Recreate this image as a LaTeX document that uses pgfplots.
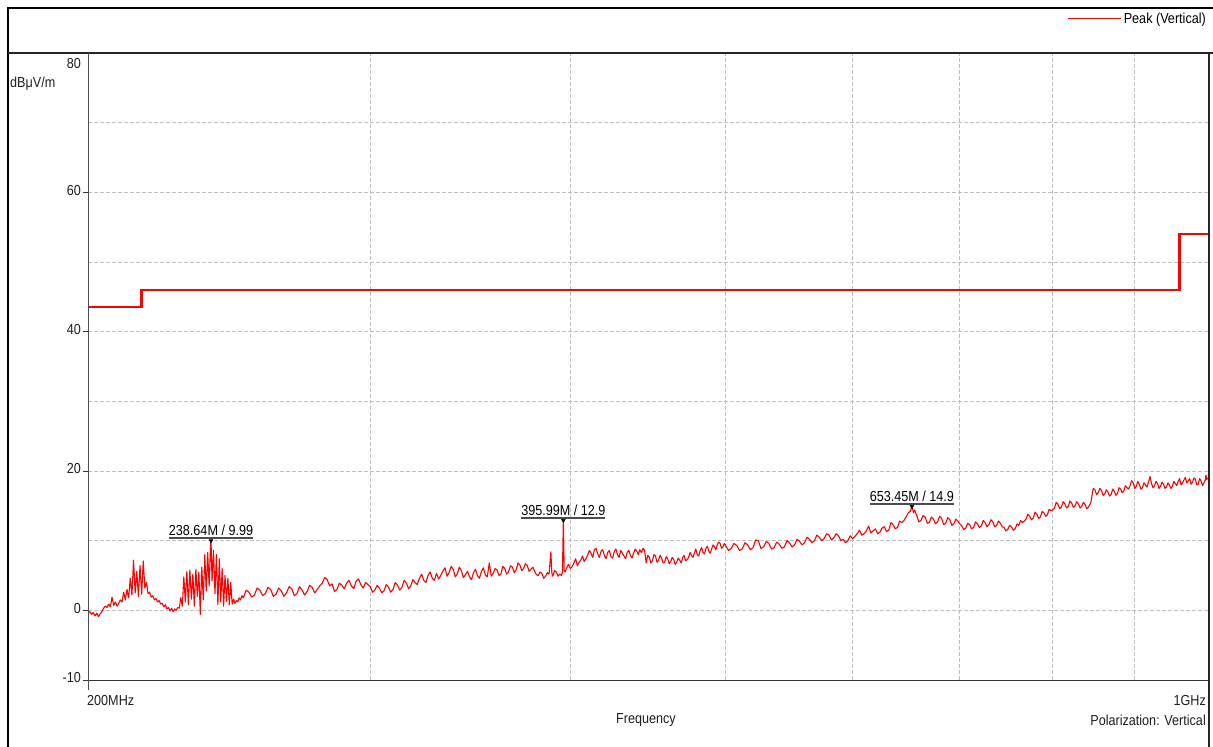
\documentclass[border=0pt]{standalone}
\usepackage{fontspec}
\setmainfont{Liberation Sans}[FakeStretch=0.87]
\usepackage{pgfplots}
\pgfplotsset{compat=1.18}

\definecolor{gridc}{RGB}{190,190,190}
\definecolor{txt}{RGB}{30,30,30}
\definecolor{tr}{RGB}{255,0,0}
\newcommand\lbl{\fontsize{14.5}{16}\selectfont}

\begin{document}
\begin{tikzpicture}[x=1pt,y=1pt]
\useasboundingbox (0,0) rectangle (1213,747);
\begin{axis}[
    at={(88pt,67pt)}, anchor=south west,
    scale only axis, width=1120pt, height=627pt,
    xmode=log, xmin=200, xmax=1000,
    ymin=-10, ymax=80,
    font=\lbl\color{txt},
    /pgf/number format/assume math mode=true,
    axis line style={black!80, line width=0.9pt},
    xtick={300,400,500,600,700,800,900}, xticklabels={},
    major x tick style={draw=none},
    ytick={-10,0,20,40,60,80},
    yticklabels={-10,0,20,40,60,{}},
    minor ytick={10,30,50,70},
    minor y tick style={draw=none},
    tick align=outside, ytick pos=left,
    major tick length=5pt,
    major y tick style={black!80, line width=0.8pt},
    yticklabel style={inner sep=0pt, xshift=-2pt, yshift=2pt},
    grid=both,
    major grid style={gridc, line width=0.7pt, dash pattern=on 4pt off 2pt},
    minor grid style={gridc, line width=0.7pt, dash pattern=on 4pt off 2pt},
    legend style={at={(1,1)}, anchor=south east, draw=none, fill=none,
        inner sep=0pt, yshift=26pt, font=\lbl,
        legend cell align=left},
    legend image code/.code={\draw[tr, line width=1pt] (0pt,0pt) -- (53pt,0pt);},
    clip=false,
]
% limit line
\addplot[tr, line width=2.4pt, forget plot, line join=miter] coordinates {
    (200,43.5) (216,43.5) (216,46) (960,46) (960,54) (1000,54)
};
% peak trace
\addplot[tr, line width=1.1pt, line join=round] coordinates {
(200,-0.4) (200.5,-0.2) (201,-0.6) (201.5,-0.3) (202,-0.8) (202.5,-0.4) (203,-0.9) (203.5,-0.5)
(204,-0.2) (204.5,0.3) (205,0.6) (205.5,0.4) (206,0.9) (206.5,0.5) (207,1.9) (207.5,0.7)
(208,1.2) (208.5,0.6) (209,1.0) (209.5,1.5) (210,1.2) (210.5,2.6) (211,1.5) (211.5,3.0)
(212,1.8) (212.5,4.6) (213,2.2) (213.5,7.2) (214,2.5) (214.5,5.6) (215,2.0) (215.5,6.4)
(216,2.3) (216.5,7.1) (217,3.2) (217.5,4.0) (218,2.4) (218.5,2.6) (219,1.9) (219.5,2.1)
(220,1.5) (220.5,1.7) (221,1.2) (221.5,1.4) (222,0.9) (222.5,1.0) (223,0.5) (223.5,0.8)
(224,0.2) (224.5,0.4) (225,-0.1) (225.5,0.3) (226,-0.2) (226.5,0.2) (227,0.0) (227.5,0.4)
(228,0.3) (228.5,1.8) (229,0.6) (229.5,4.8) (230,1.2) (230.5,5.6) (231,0.8) (231.5,5.8)
(232,1.6) (232.5,5.2) (233,0.6) (233.5,5.9) (234,2.0) (234.5,5.5) (235,-0.6) (235.5,6.2)
(236,1.5) (236.5,8.0) (237,2.8) (237.5,8.3) (238,3.5) (238.5,9.6) (238.64,9.99) (239,4.2)
(239.5,8.6) (240,2.4) (240.5,8.0) (241,0.8) (241.5,7.4) (242,1.2) (242.5,6.0) (243,0.6)
(243.5,5.0) (244,1.3) (244.5,4.6) (245,0.8) (245.5,4.0) (246,0.9) (246.5,1.6) (247,1.0)
(247.5,1.4) (248,1.2) (248.5,1.8) (249,1.5) (249.5,2.1) (250,1.8)
(251,2.9) (252,2.6) (253,1.9) (254,2.2) (255,3.2) (256,2.9) (257,2.1) (258,2.4) (259,3.3)
(260,3.0) (261,2.0) (262,2.3) (263,3.2) (264,2.8) (265,2.0) (266,2.5) (267,3.4) (268,3.1)
(269,2.1) (270,2.4) (271,3.4) (272,2.9) (273,2.2) (274,2.7) (275,3.6) (276,3.3) (277,2.5)
(278,3.0) (279,3.5) (280,3.9) (281,4.7) (282,4.4) (283,3.5) (284,3.8) (285,2.7) (286,3.0)
(287,3.9) (288,3.6) (289,3.1) (290,3.9) (291,4.3) (292,3.5) (293,3.1) (294,4.2) (295,4.5)
(296,3.7) (297,3.2) (298,4.0) (299,3.7) (300,3.4) (301,2.6) (302,2.9) (303,3.6) (304,3.2)
(305,2.5) (306,2.8) (307,3.7) (308,3.3) (309,2.6) (310,3.0) (311,4.0) (312,3.6) (313,2.9)
(314,3.3) (315,4.3) (316,3.9) (317,3.1) (318,3.5) (319,4.4) (320,4.0) (321,3.7) (322,4.6)
(323,5.2) (324,4.3) (325,4.0) (326,5.0) (327,5.5) (328,4.6) (329,4.3) (330,5.3) (331,4.5)
(332,5.0) (333,5.6) (334,6.1) (335,4.9) (336,5.4) (337,6.3) (338,5.9) (339,4.8) (340,5.2)
(341,6.2) (342,5.7) (343,4.7) (344,5.1) (345,5.6) (346,4.8) (347,4.4) (348,5.4) (349,5.9)
(350,5.0) (351,4.6) (352,5.6) (353,6.1) (354,5.1) (355,4.8) (356,6.8) (357,4.9) (358,5.3)
(359,6.0) (360,5.8) (361,5.0) (362,5.2) (363,6.3) (364,6.0) (365,5.2) (366,5.5) (367,6.4)
(368,6.2) (369,5.4) (370,5.8) (371,6.8) (372,6.5) (373,5.7) (374,6.0) (375,6.7) (376,6.4)
(377,5.6) (378,5.9) (379,6.2) (380,5.6) (381,5.1) (382,5.0) (383,5.5) (384,5.3) (385,4.6)
(386,4.9) (387,5.4) (388,5.2) (389,8.4) (389.5,5.3) (390,4.9) (391,5.7) (392,5.5) (393,4.9)
(394,5.2) (395,5.0) (395.5,5.6) (395.99,12.9) (396.5,5.8) (397,5.5) (398,6.1) (399,6.6)
(400,6.0) (401,6.3) (402,6.8) (403,7.4) (404,6.4) (405,6.9) (406,7.2) (407,7.8) (408,7.0)
(409,7.4) (410,7.9) (411,8.6) (412,8.2) (413,7.6) (414,8.7) (415,8.9) (416,8.1) (417,7.6)
(418,8.5) (419,8.7) (420,7.9) (421,7.4) (422,8.3) (423,8.6) (424,7.7) (425,7.5) (426,8.4)
(427,8.8) (428,8.0) (429,7.6) (430,8.6) (431,8.2) (432,7.8) (433,7.4) (434,8.3) (435,8.6)
(436,7.9) (437,7.5) (438,8.2) (439,8.8) (440,8.5) (441,8.0) (442,8.7) (443,8.3) (444,8.9)
(445,8.6) (446,6.8) (447,7.9) (448,7.6) (449,6.8) (450,7.1) (451,8.0) (452,7.8) (453,6.9)
(454,7.2) (455,7.9) (456,7.5) (457,6.8) (458,6.9) (459,7.7) (460,7.4) (461,6.7) (462,7.0)
(463,7.6) (464,7.3) (465,6.6) (466,6.9) (467,7.5) (468,7.2) (469,6.8) (470,7.5) (471,7.9)
(472,7.1) (473,7.3) (474,7.6) (475,8.3) (476,7.9) (477,7.6) (478,8.2) (479,8.8) (480,8.0)
(481,7.8) (482,8.6) (483,9.0) (484,8.3) (485,8.1) (486,8.9) (487,9.2) (488,8.5) (489,8.2)
(490,8.8) (491,9.4) (492,9.1) (493,8.7) (494,9.4) (495,9.8) (496,9.6) (497,8.9) (498,9.1)
(499,9.6) (500,9.3)
(502,8.6) (504,8.9) (506,9.6) (508,9.3) (510,8.6) (512,8.8) (514,9.7) (516,9.4) (518,8.7)
(520,9.0) (522,10.1) (524,10.0) (526,8.9) (528,9.1) (530,9.9) (532,9.6) (534,8.8) (536,9.0)
(538,9.8) (540,9.5) (542,8.9) (544,9.1) (546,10.0) (548,9.7) (550,9.1) (552,9.4) (554,10.2)
(556,9.9) (558,9.4) (560,9.7) (562,10.5) (564,10.2) (566,9.7) (568,10.0) (570,10.8) (572,10.5)
(574,10.0) (576,10.3) (578,11.0) (580,10.8) (582,10.1) (584,10.4) (586,11.0) (588,10.7) (590,10.0)
(592,10.2) (594,9.7) (596,10.0) (598,10.7) (600,10.3) (602,10.6) (604,11.0) (606,11.5) (608,10.8)
(610,11.0) (612,11.4) (614,12.1) (616,11.1) (618,11.4) (620,11.7) (622,11.0) (624,11.2) (626,11.8)
(628,12.0) (630,11.3) (632,11.5) (634,12.6) (636,12.3) (638,11.7) (640,11.9) (642,12.8) (644,12.6)
(646,12.9) (648,13.4) (650,14.0) (652,14.2) (653.45,14.9) (655,14.0) (656,14.4) (658,13.6) (660,12.7)
(662,12.9) (664,13.6) (666,13.4) (668,12.5) (670,12.6) (672,13.4) (674,13.1) (676,12.4) (678,12.7)
(680,13.5) (682,13.2) (684,12.3) (686,12.5) (688,13.3) (690,13.0) (692,12.2) (694,12.4) (696,13.1)
(698,12.8) (700,12.4) (702,12.1) (704,11.6) (706,11.8) (708,12.5) (710,12.3) (712,11.7) (714,11.9)
(716,12.7) (718,12.4) (720,11.9) (722,12.1) (724,12.9) (726,12.6) (728,12.0) (730,12.3) (732,13.0)
(734,12.7) (736,12.0) (738,12.2) (740,12.8) (742,12.5) (744,12.0) (746,11.9) (748,11.4) (750,11.6)
(752,12.2) (754,12.0) (756,11.5) (758,11.7) (760,12.4) (762,12.2) (764,12.9) (766,12.6) (768,12.8)
(770,13.1) (772,13.8) (774,13.5) (776,13.0) (778,13.2) (780,14.1) (782,13.8) (784,13.2) (786,13.4)
(788,14.2) (790,14.0) (792,13.5) (794,13.7) (796,14.5) (798,14.3) (800,14.4) (802,14.7) (804,15.5)
(806,15.2) (808,14.6) (810,14.8) (812,15.6) (814,15.3) (816,14.7) (818,14.9) (820,15.7) (822,15.4)
(824,14.8) (826,15.0) (828,15.6) (830,15.3) (832,14.7) (834,14.9) (836,15.5) (838,15.2) (840,14.6)
(842,14.8) (844,15.2) (845,15.5) (847,16.9) (848,17.5) (850,17.3) (852,16.6) (854,16.9) (856,17.5)
(858,17.2) (860,16.5) (862,16.7) (864,17.3) (866,17.0) (868,16.4) (870,16.6) (872,17.4) (874,17.1)
(876,16.5) (878,16.8) (880,17.6) (882,17.4) (884,16.9) (886,17.1) (888,17.9) (890,17.6) (892,17.4)
(894,17.9) (896,18.6) (898,18.3) (900,17.5) (902,17.8) (904,18.5) (906,18.1) (908,17.4) (910,17.6)
(912,18.3) (914,18.0) (916,17.7) (918,18.4) (920,19.2) (922,18.2) (924,17.6) (926,17.9) (928,18.5)
(930,18.2) (932,17.5) (934,17.8) (936,18.4) (938,18.1) (940,17.5) (942,17.7) (944,18.3) (946,18.0)
(948,17.5) (950,17.8) (952,18.5) (954,18.2) (956,17.9) (958,18.5) (960,18.9) (962,18.0) (964,18.3)
(966,18.7) (968,19.1) (970,18.3) (972,18.6) (974,18.9) (976,18.1) (978,18.4) (980,19.0) (982,18.8)
(984,18.0) (986,18.1) (988,18.9) (990,18.6) (992,17.9) (994,18.3) (996,18.7) (997,19.4) (998,18.8)
(1000,19.0)
};
\addlegendentry{Peak (Vertical)}
% peak markers with labels
\addplot[only marks, mark=triangle*, mark size=2.2pt, black,
    mark options={rotate=180},
    point meta=explicit symbolic,
    nodes near coords,
    every node near coord/.style={anchor=south, inner sep=0pt, yshift=1.5pt,
        font=\lbl\color{txt}},
    nodes near coords={\vbox{\hbox{\pgfplotspointmeta}\kern1.5pt{\color{black!70}\hrule height 1.6pt}}},
    forget plot] coordinates {
    (238.64,9.99) [238.64M / 9.99]
    (395.99,12.9) [395.99M / 12.9]
    (653.45,14.9) [653.45M / 14.9]
};
\end{axis}
% frame and panel lines (picture units = pixels of the reference)
\draw[black, line width=2.5pt] (8,-5) -- (8,739) -- (1220,739);
\draw[black!85, line width=1.3pt] (8,694) -- (1213,694);
\draw[black!70, line width=0.9pt] (88,694) -- (88,57);
\draw[black!85, line width=2.2pt] (1209,694) -- (1209,-5);
% texts
\node[anchor=east, inner sep=0pt, font=\lbl, text=txt] at (81,683) {80};
\node[anchor=west, inner sep=0pt, font=\lbl, text=txt] at (10,663) {dBμV/m};
\node[anchor=west, inner sep=0pt, font=\lbl, text=txt] at (87,46) {200MHz};
\node[anchor=east, inner sep=0pt, font=\lbl, text=txt] at (1206,46) {1GHz};
\node[anchor=center, inner sep=0pt, font=\lbl, text=txt] at (646,27) {Frequency};
\node[anchor=east, inner sep=0pt, font=\lbl, text=txt] at (1206,27) {Polarization: Vertical};
\end{tikzpicture}
\end{document}
